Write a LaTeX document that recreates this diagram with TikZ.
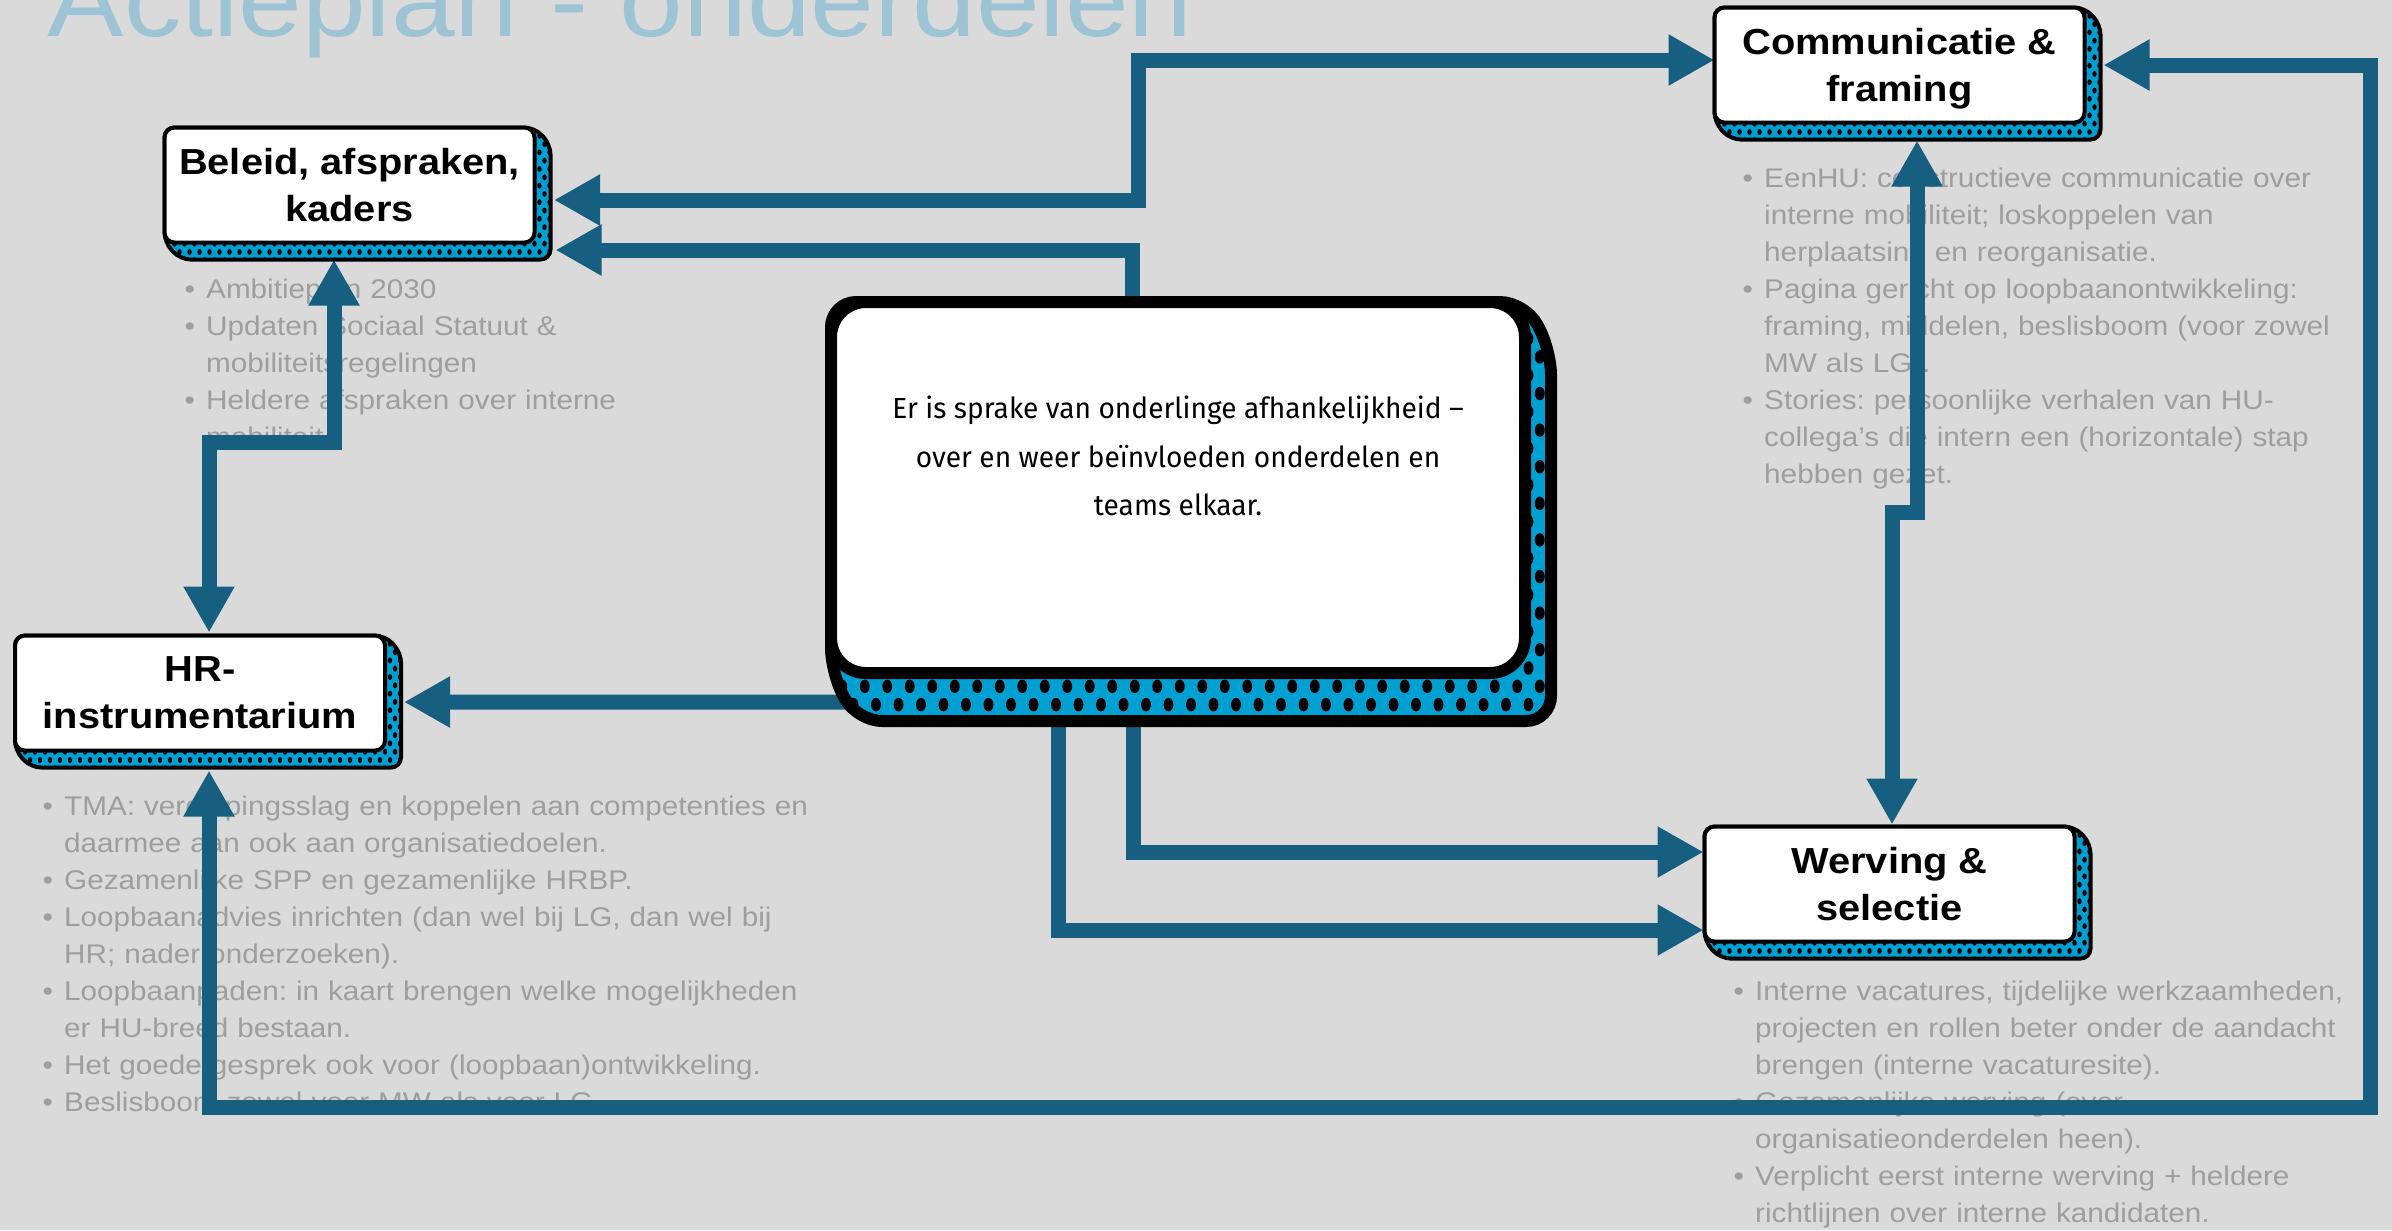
\documentclass[tikz,border=0pt]{standalone}
\usepackage{fontspec}
\setmainfont{Liberation Sans}[FakeStretch=1.1]
\newfontfamily\plexfont{Fira Sans}[FakeStretch=0.97]
\usetikzlibrary{positioning,calc,arrows.meta}
\frenchspacing

\definecolor{slidegray}{RGB}{218,218,218}
\definecolor{linkblue}{RGB}{22,95,128}
\definecolor{shadeblue}{RGB}{0,160,211}
\definecolor{titleblue}{RGB}{157,196,212}
\definecolor{notegray}{RGB}{158,158,158}

\pgfdeclarelayer{bg}
\pgfdeclarelayer{arr}
\pgfdeclarelayer{shade}
\pgfsetlayers{bg,arr,shade,main}

\newcommand{\boxfont}{\bfseries\fontsize{10.3pt}{13.37pt}\selectfont}
\newcommand{\notefont}{\fontsize{7.68pt}{10.53pt}\selectfont}
\newcommand{\bpt}[1]{\noindent\hangindent=2.15mm\hangafter=1\makebox[2.15mm][l]{\textbullet}#1\par}

% dotted drop shade: node, dx, dy, line width, corner, dot step, row step, cols, rows
\newcommand{\dropshade}[9]{%
  \begin{pgfonlayer}{shade}
    \begin{scope}
      \clip[rounded corners=#5] (#1.north west) -- (#1.north east)
        -- ($(#1.north east)+(#2,#3)$) -- ($(#1.south east)+(#2,#3)$)
        -- ($(#1.south west)+(#2,#3)$) -- (#1.south west) -- cycle;
      \fill[shadeblue] ($(#1.north west)+(-20,-20)$) rectangle ($(#1.south east)+(#2+20,#3+20)$);
      \begin{scope}[shift={(#1.north west)}]
        \foreach \j in {0,...,#9}
          \foreach \i in {0,...,#8}
            \fill ({\i*#6+mod(\j,2)*#6/2},{\j*#7}) ellipse [x radius={0.22*#6}, y radius={0.3*#6}];
      \end{scope}
    \end{scope}
    \draw[line width=#4, rounded corners=#5] (#1.north west) -- (#1.north east)
      -- ($(#1.north east)+(#2,#3)$) -- ($(#1.south east)+(#2,#3)$)
      -- ($(#1.south west)+(#2,#3)$) -- (#1.south west) -- cycle;
  \end{pgfonlayer}}

\tikzset{
  bigtri/.tip={Triangle[length=4.6mm, width=4.8mm]},
  link/.style={line width=1.5mm, draw=linkblue},
  unit/.style={draw=black, fill=white, line width=0.4mm, rounded corners=1mm,
    minimum width=37mm, minimum height=11.5mm, inner sep=0pt, outer sep=0pt,
    align=center, font=\boxfont, text depth=0pt},
  hub/.style={draw=black, fill=white, line width=1.2mm, rounded corners=3.5mm,
    minimum width=69.4mm, minimum height=37.1mm, inner sep=0pt, outer sep=0pt,
    align=center, font=\plexfont\fontsize{8.25pt}{13.8pt}\selectfont,
    text depth=6.3mm},
  notes/.style={anchor=base west, inner sep=0pt, text width=90mm, align=left,
    text=notegray, font=\notefont}
}

\begin{document}
\begin{tikzpicture}[x=0.1mm, y=-0.1mm]
\useasboundingbox (0,0) rectangle (2392,1230);

\begin{pgfonlayer}{bg}
\fill[slidegray] (0,0) rectangle (2392,1230);
\node[anchor=base west, inner sep=0pt, text=titleblue, font=\fontsize{29.6pt}{30pt}\selectfont] (title) at (47,36) {Actieplan - onderdelen};

\node[notes] (beleidnotes) at (184,298) {\bpt{Ambitieplan 2030}\bpt{Updaten Sociaal Statuut \&\newline mobiliteitsregelingen}\bpt{Heldere afspraken over interne\newline mobiliteit}};
\node[notes] (commnotes) at (1742,187) {\bpt{EenHU: constructieve communicatie over\newline interne mobiliteit; loskoppelen van\newline herplaatsing en reorganisatie.}\bpt{Pagina gericht op loopbaanontwikkeling:\newline framing, middelen, beslisboom (voor zowel\newline MW als LG).}\bpt{Stories: persoonlijke verhalen van HU-\newline collega’s die intern een (horizontale) stap\newline hebben gezet.}};
\node[notes] (hrnotes) at (42,815) {\bpt{TMA: verdiepingsslag en koppelen aan competenties en\newline daarmee aan ook aan organisatiedoelen.}\bpt{Gezamenlijke SPP en gezamenlijke HRBP.}\bpt{Loopbaanadvies inrichten (dan wel bij LG, dan wel bij\newline HR; nader onderzoeken).}\bpt{Loopbaanpaden: in kaart brengen welke mogelijkheden\newline er HU-breed bestaan.}\bpt{Het goede gesprek ook voor (loopbaan)ontwikkeling.}\bpt{Beslisboom zowel voor MW als voor LG.}};
\node[notes] (wervingnotes) at (1733,1000) {\bpt{Interne vacatures, tijdelijke werkzaamheden,\newline projecten en rollen beter onder de aandacht\newline brengen (interne vacaturesite).}\bpt{Gezamenlijke werving (over\newline organisatieonderdelen heen).}\bpt{Verplicht eerst interne werving + heldere\newline richtlijnen over interne kandidaten.}};
\end{pgfonlayer}

% boxes
\node[unit] (beleid) at (349.5,185) {Beleid, afspraken,\\kaders};
\node[unit] (comm) at (1899.5,65) {Communicatie \&\\framing};
\node[unit] (hr) at (200,693) {HR-\\instrumentarium};
\node[unit] (werving) at (1889.5,884) {Werving \&\\selectie};
\node[hub] (central) at (1178,487.5) {Er is sprake van onderlinge afhankelijkheid –\\over en weer beïnvloeden onderdelen en\\teams elkaar.};

\dropshade{beleid}{16}{17}{0.4mm}{1mm}{10}{8.3}{41}{17}
\dropshade{comm}{16}{17}{0.4mm}{1mm}{10}{8.3}{41}{17}
\dropshade{hr}{16}{17}{0.4mm}{1mm}{10}{8.3}{41}{17}
\dropshade{werving}{16}{17}{0.4mm}{1mm}{10}{8.3}{41}{17}
\dropshade{central}{26}{48}{1.2mm}{2.5mm}{22.5}{18.3}{33}{24}

% connectors
\begin{pgfonlayer}{arr}
\draw[link, {bigtri}-{bigtri}] ($(beleid.east)+(19.5,15)$) -| (1138,60) -- ($(comm.west)+(0,-5)$);
\draw[link, -{bigtri}] ($(central.north)+(-46,12)$) |- ($(beleid.east)+(21,65)$);
\draw[link, {bigtri}-{bigtri}] ($(beleid.south)+(-15.5,17)$) -- ++(0,183) -| ($(hr.north)+(9,-3)$);
\draw[link, -{bigtri}] ($(central.south west)+(25,29)$) -- ($(hr.east)+(19,9)$);
\draw[link, -{bigtri}] ($(central.south)+(-45,30)$) |- ($(werving.west)+(-1,-32)$);
\draw[link, -{bigtri}] ($(central.south)+(-120,30)$) |- ($(werving.west)+(-1,46)$);
\draw[link, {bigtri}-{bigtri}] ($(comm.south)+(17.5,18)$) -- ++(0,371.5) -| ($(werving.north)+(2.5,-2)$);
\draw[link, {bigtri}-{bigtri}] ($(comm.east)+(19,0)$) -| (2370,1107) -| ($(hr.south)+(9,20)$);
\end{pgfonlayer}
\end{tikzpicture}
\end{document}
